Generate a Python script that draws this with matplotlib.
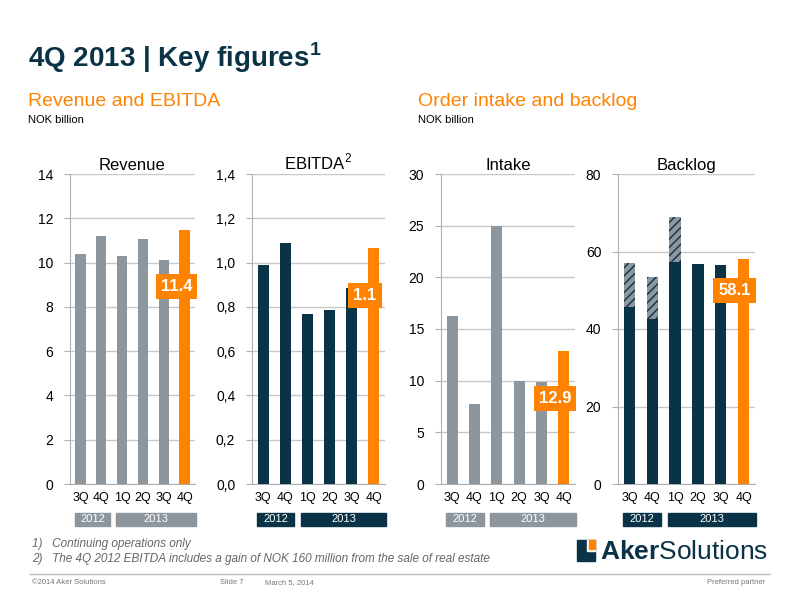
import matplotlib
matplotlib.use("Agg")
import matplotlib.pyplot as plt
from matplotlib.patches import Rectangle
import numpy as np

quarters = ["3Q", "4Q", "1Q", "2Q", "3Q", "4Q"]
revenue = [10.4, 11.2, 10.3, 11.05, 10.1, 11.45]
ebitda = [0.99, 1.09, 0.77, 0.785, 0.885, 1.065]
intake = [16.3, 7.7, 25.0, 10.0, 9.9, 12.9]
backlog_base = [45.7, 42.5, 57.4, 56.8, 56.5, 58.1]
backlog_extra = [11.3, 11.0, 11.6, 0, 0, 0]
labels = ["11.4", "1.1", "12.9", "58.1"]
label_pos = [0.78, 0.8, 0.64, 0.86]

GREY = "#8d969d"; NAVY = "#0b3348"; ORANGE = "#ff8200"
plt.rcParams['font.family'] = ['Liberation Sans', 'DejaVu Sans']
plt.rcParams['mathtext.fontset'] = 'custom'
plt.rcParams['mathtext.rm'] = 'Liberation Sans'
plt.rcParams['mathtext.bf'] = 'Liberation Sans:bold'

fig = plt.figure(figsize=(8, 6), dpi=100)
W, H = 800, 600
def fx(px): return px / W
def fy(py): return 1 - py / H

fig.text(fx(28), fy(58), r"4Q 2013 | Key figures$^{\mathbf{1}}$", fontsize=20, weight="bold", color=NAVY, va="center")
fig.text(fx(28), fy(102), "Revenue and EBITDA", fontsize=14, color=ORANGE, va="center")
fig.text(fx(28), fy(120), "NOK billion", fontsize=8, color="black", va="center")
fig.text(fx(418), fy(102), "Order intake and backlog", fontsize=14, color=ORANGE, va="center")
fig.text(fx(418), fy(120), "NOK billion", fontsize=8, color="black", va="center")

specs = [
    (70, 195, revenue, GREY, "Revenue", 14, 2, lambda v: f"{v:g}", 0),
    (252, 385, ebitda, NAVY, "EBITDA$^2$", 1.4, 0.2, lambda v: f"{v:.1f}".replace(".", ","), 1),
    (441, 575, intake, GREY, "Intake", 30, 5, lambda v: f"{v:g}", 2),
    (618, 755, backlog_base, NAVY, "Backlog", 80, 20, lambda v: f"{v:g}", 3),
]
x = np.arange(6)
for (l, r, vals, col, title, ymax, step, fmt, idx) in specs:
    ax = fig.add_axes([fx(l), fy(484), fx(r - l), fy(174) - fy(484)])
    cols = [col] * 5 + [ORANGE]
    ax.bar(x, vals, width=0.5, color=cols, zorder=3)
    if idx == 3:
        ax.bar(x, backlog_extra, bottom=backlog_base, width=0.5, color="#8d969d",
               hatch="////", edgecolor=NAVY, linewidth=0, zorder=3)
    ax.set_xlim(-0.5, 5.5)
    ax.set_ylim(0, ymax)
    ticks = np.arange(0, ymax + step / 2, step)
    ax.set_yticks(ticks)
    ax.set_yticklabels([fmt(t) for t in ticks], fontsize=10)
    ax.set_xticks(x)
    ax.set_xticklabels(quarters, fontsize=9)
    ax.grid(axis="y", color="#c8c8c8", lw=1, zorder=0)
    for s in ["top", "right"]:
        ax.spines[s].set_visible(False)
    ax.spines["left"].set_color("#b0b0b0"); ax.spines["bottom"].set_color("#b0b0b0")
    ax.tick_params(axis="y", length=4, color="#b0b0b0", pad=8)
    ax.tick_params(axis="x", length=0, pad=6)
    ax.set_title(title, fontsize=12, pad=3)
    ax.text(4.6, vals[5] * label_pos[idx], labels[idx], fontsize=12, weight="bold", color="white",
            ha="center", va="center", zorder=5,
            bbox=dict(boxstyle="square,pad=0.3", fc=ORANGE, ec="none"))
    bandcol = GREY if col == GREY else NAVY
    span = (r - l)
    fig.patches.append(Rectangle((fx(l + 5), fy(526)), fx(span * 0.28), fy(513) - fy(526),
                                 transform=fig.transFigure, color=bandcol))
    fig.patches.append(Rectangle((fx(l + 5 + span * 0.33), fy(526)), fx(span * 0.64), fy(513) - fy(526),
                                 transform=fig.transFigure, color=bandcol))
    fig.text(fx(l + 5 + span * 0.14), fy(519.5), "2012", fontsize=8, color="white", ha="center", va="center")
    fig.text(fx(l + 5 + span * 0.65), fy(519.5), "2013", fontsize=8, color="white", ha="center", va="center")

fig.text(fx(32), fy(544), "1)   Continuing operations only", fontsize=8.5, style="italic", color="#666666", va="center")
fig.text(fx(32), fy(559), "2)   The 4Q 2012 EBITDA includes a gain of NOK 160 million from the sale of real estate",
         fontsize=8.5, style="italic", color="#666666", va="center")
fig.add_artist(plt.Line2D([fx(30), fx(770)], [fy(574), fy(574)], color="#bbbbbb", lw=1))
fig.text(fx(32), fy(583), "©2014 Aker Solutions", fontsize=5.5, color="#777777", va="center")
fig.text(fx(220), fy(583), "Slide 7", fontsize=5.5, color="#777777", va="center")
fig.text(fx(265), fy(583), "March 5, 2014", fontsize=5.5, color="#777777", va="center")
fig.text(fx(765), fy(583), "Preferred partner", fontsize=5.5, color="#777777", va="center", ha="right")
fig.patches.append(Rectangle((fx(577), fy(561)), fx(18), fy(540) - fy(561), transform=fig.transFigure, color=NAVY))
fig.patches.append(Rectangle((fx(587), fy(551)), fx(8), fy(540) - fy(551), transform=fig.transFigure, color="white"))
fig.patches.append(Rectangle((fx(589), fy(549)), fx(6), fy(540) - fy(549), transform=fig.transFigure, color=ORANGE))
fig.text(fx(600), fy(552), r"$\mathbf{Aker}$Solutions", fontsize=19, color=NAVY, va="center")

fig.savefig("out.png", dpi=100)
